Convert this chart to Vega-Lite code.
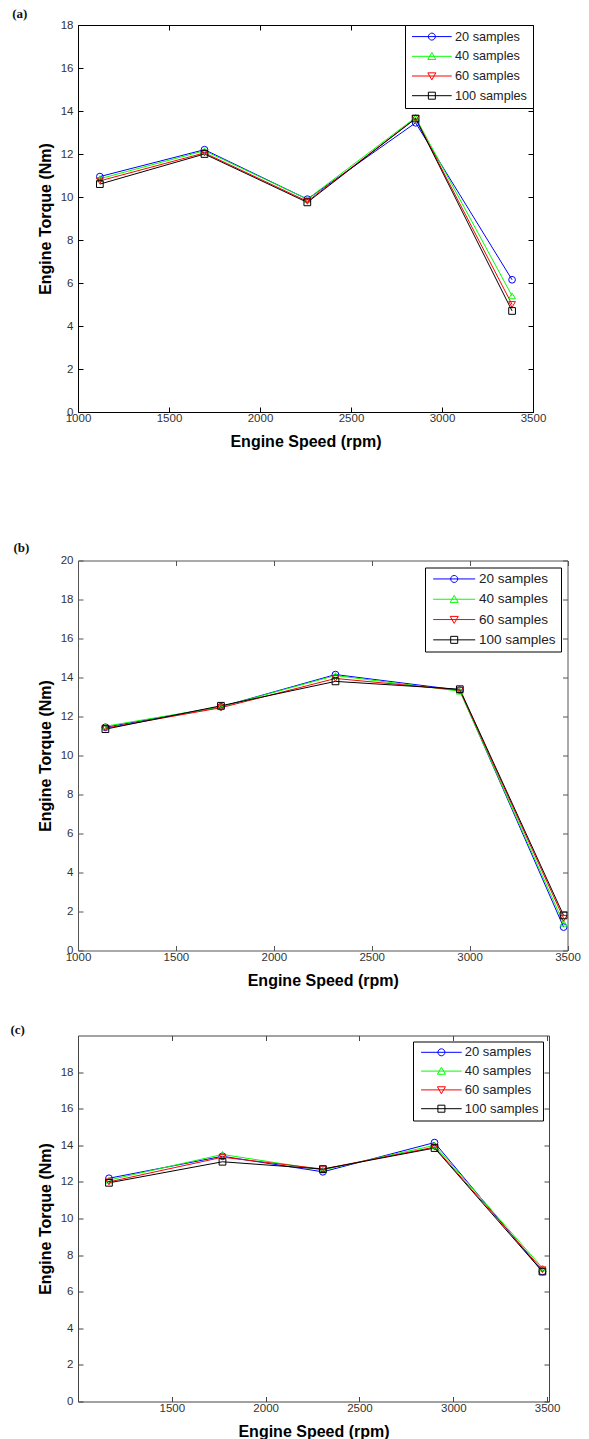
{
  "$schema": "https://vega.github.io/schema/vega-lite/v6.json",
  "background": "white",
  "padding": {"left": 10, "top": 8, "right": 4, "bottom": 0},
  "autosize": {"type": "pad"},
  "config": {
    "view": {"stroke": null},
    "axis": {"grid": false, "domainWidth": 1, "tickWidth": 1, "tickSize": -5, "labelFont": "Liberation Sans", "labelFontSize": 11.5, "labelColor": "#333333", "labelFlush": false, "labelOverlap": false, "titleFont": "Liberation Sans", "titleFontSize": 16, "titleFontWeight": "bold", "titleColor": "#000000", "format": "d"},
    "legend": {"strokeColor": "#000000", "fillColor": "#ffffff", "labelFont": "Liberation Sans", "labelColor": "#222222", "labelAlign": "left", "symbolSize": 49, "symbolStrokeWidth": 1, "symbolFillColor": "transparent", "cornerRadius": 0},
    "title": {"font": "Liberation Serif", "fontSize": 13, "fontWeight": "bold", "color": "#111111", "anchor": "start", "frame": "group", "baseline": "bottom", "offset": 0},
    "point": {"filled": false, "size": 45, "strokeWidth": 1, "opacity": 1},
    "line": {"strokeWidth": 1}
  },
  "datasets": {
    "a": [
      {"series": "20 samples", "rpm": 1120, "torque": 10.95},
      {"series": "20 samples", "rpm": 1695, "torque": 12.2},
      {"series": "20 samples", "rpm": 2260, "torque": 9.9},
      {"series": "20 samples", "rpm": 2855, "torque": 13.45},
      {"series": "20 samples", "rpm": 3385, "torque": 6.15},
      {"series": "40 samples", "rpm": 1120, "torque": 10.85},
      {"series": "40 samples", "rpm": 1695, "torque": 12.15},
      {"series": "40 samples", "rpm": 2260, "torque": 9.9},
      {"series": "40 samples", "rpm": 2855, "torque": 13.7},
      {"series": "40 samples", "rpm": 3385, "torque": 5.4},
      {"series": "60 samples", "rpm": 1120, "torque": 10.75},
      {"series": "60 samples", "rpm": 1695, "torque": 12.05},
      {"series": "60 samples", "rpm": 2260, "torque": 9.8},
      {"series": "60 samples", "rpm": 2855, "torque": 13.65},
      {"series": "60 samples", "rpm": 3385, "torque": 5.0},
      {"series": "100 samples", "rpm": 1120, "torque": 10.6},
      {"series": "100 samples", "rpm": 1695, "torque": 12.0},
      {"series": "100 samples", "rpm": 2260, "torque": 9.75},
      {"series": "100 samples", "rpm": 2855, "torque": 13.65},
      {"series": "100 samples", "rpm": 3385, "torque": 4.7}
    ],
    "b": [
      {"series": "20 samples", "rpm": 1140, "torque": 11.45},
      {"series": "20 samples", "rpm": 1730, "torque": 12.5},
      {"series": "20 samples", "rpm": 2315, "torque": 14.15},
      {"series": "20 samples", "rpm": 2950, "torque": 13.35},
      {"series": "20 samples", "rpm": 3480, "torque": 1.2},
      {"series": "40 samples", "rpm": 1140, "torque": 11.5},
      {"series": "40 samples", "rpm": 1730, "torque": 12.5},
      {"series": "40 samples", "rpm": 2315, "torque": 14.1},
      {"series": "40 samples", "rpm": 2950, "torque": 13.3},
      {"series": "40 samples", "rpm": 3480, "torque": 1.4},
      {"series": "60 samples", "rpm": 1140, "torque": 11.4},
      {"series": "60 samples", "rpm": 1730, "torque": 12.45},
      {"series": "60 samples", "rpm": 2315, "torque": 13.95},
      {"series": "60 samples", "rpm": 2950, "torque": 13.35},
      {"series": "60 samples", "rpm": 3480, "torque": 1.65},
      {"series": "100 samples", "rpm": 1140, "torque": 11.35},
      {"series": "100 samples", "rpm": 1730, "torque": 12.55},
      {"series": "100 samples", "rpm": 2315, "torque": 13.8},
      {"series": "100 samples", "rpm": 2950, "torque": 13.4},
      {"series": "100 samples", "rpm": 3480, "torque": 1.8}
    ],
    "c": [
      {"series": "20 samples", "rpm": 1165, "torque": 12.2},
      {"series": "20 samples", "rpm": 1770, "torque": 13.4},
      {"series": "20 samples", "rpm": 2305, "torque": 12.55},
      {"series": "20 samples", "rpm": 2900, "torque": 14.15},
      {"series": "20 samples", "rpm": 3475, "torque": 7.1},
      {"series": "40 samples", "rpm": 1165, "torque": 12.1},
      {"series": "40 samples", "rpm": 1770, "torque": 13.5},
      {"series": "40 samples", "rpm": 2305, "torque": 12.65},
      {"series": "40 samples", "rpm": 2900, "torque": 14.0},
      {"series": "40 samples", "rpm": 3475, "torque": 7.3},
      {"series": "60 samples", "rpm": 1165, "torque": 12.0},
      {"series": "60 samples", "rpm": 1770, "torque": 13.35},
      {"series": "60 samples", "rpm": 2305, "torque": 12.7},
      {"series": "60 samples", "rpm": 2900, "torque": 13.9},
      {"series": "60 samples", "rpm": 3475, "torque": 7.2},
      {"series": "100 samples", "rpm": 1165, "torque": 11.95},
      {"series": "100 samples", "rpm": 1770, "torque": 13.1},
      {"series": "100 samples", "rpm": 2305, "torque": 12.7},
      {"series": "100 samples", "rpm": 2900, "torque": 13.85},
      {"series": "100 samples", "rpm": 3475, "torque": 7.1}
    ]
  },
  "bounds": "flush",
  "spacing": 148.5,
  "resolve": {"scale": {"color": "independent", "shape": "independent"}, "legend": {"color": "independent", "shape": "independent"}},
  "vconcat": [
    {
      "title": {"text": "(a)", "dx": -65.8, "dy": 6},
      "width": 455,
      "height": 387,
      "data": {"name": "a"},
      "resolve": {"axis": {"x": "independent", "y": "independent"}},
      "encoding": {
        "color": {"field": "series", "type": "nominal", "scale": {"domain": ["20 samples", "40 samples", "60 samples", "100 samples"], "range": ["#0000ff", "#00ff00", "#ff0000", "#000000"]},
          "legend": {"title": null, "orient": "top-right", "offset": 0, "padding": 5.25, "labelFontSize": 12.7, "rowPadding": 5.7, "symbolOffset": 15.25, "labelOffset": 16.8}}
      },
      "layer": [
        {
          "mark": {"type": "line"},
          "encoding": {
            "x": {"field": "rpm", "type": "quantitative", "scale": {"domain": [1000, 3500], "nice": false, "zero": false}, "axis": {"orient": "bottom", "values": [1000, 1500, 2000, 2500, 3000, 3500], "title": "Engine Speed (rpm)", "labelPadding": 5.5, "titlePadding": 9.5, "domainColor": "#000000", "tickColor": "#000000"}},
            "y": {"field": "torque", "type": "quantitative", "scale": {"domain": [0, 18], "nice": false}, "axis": {"orient": "left", "values": [0, 2, 4, 6, 8, 10, 12, 14, 16, 18], "title": "Engine Torque (Nm)", "labelPadding": 10, "titlePadding": 7, "domainColor": "#000000", "tickColor": "#000000"}}
          }
        },
        {
          "transform": [{"filter": "datum.series === '20 samples'"}],
          "mark": {"type": "point", "shape": "circle"},
          "encoding": {
            "x": {"field": "rpm", "type": "quantitative", "axis": {"orient": "top", "values": [1000, 1500, 2000, 2500, 3000, 3500], "labels": false, "title": null, "domainColor": "#000000", "tickColor": "#000000"}},
            "y": {"field": "torque", "type": "quantitative", "axis": {"orient": "right", "values": [0, 2, 4, 6, 8, 10, 12, 14, 16, 18], "labels": false, "title": null, "domainColor": "#000000", "tickColor": "#000000"}}
          }
        },
        {
          "transform": [{"filter": "datum.series === '40 samples'"}],
          "mark": {"type": "point", "shape": "triangle-up"},
          "encoding": {"x": {"field": "rpm", "type": "quantitative", "axis": null}, "y": {"field": "torque", "type": "quantitative", "axis": null}}
        },
        {
          "transform": [{"filter": "datum.series === '60 samples'"}],
          "mark": {"type": "point", "shape": "triangle-down"},
          "encoding": {"x": {"field": "rpm", "type": "quantitative", "axis": null}, "y": {"field": "torque", "type": "quantitative", "axis": null}}
        },
        {
          "transform": [{"filter": "datum.series === '100 samples'"}],
          "mark": {"type": "point", "shape": "square"},
          "encoding": {"x": {"field": "rpm", "type": "quantitative", "axis": null}, "y": {"field": "torque", "type": "quantitative", "axis": null}}
        },
        {
          "transform": [{"filter": "false"}],
          "mark": {"type": "point"},
          "encoding": {
            "x": {"field": "rpm", "type": "quantitative", "axis": null},
            "y": {"field": "torque", "type": "quantitative", "axis": null},
            "shape": {"field": "series", "type": "nominal", "scale": {"domain": ["20 samples", "40 samples", "60 samples", "100 samples"], "range": ["M-5.67,0H5.67M1,0A1,1,0,1,1,-1,0A1,1,0,1,1,1,0Z", "M-5.67,0H5.67M0,-1.1L1.15,0.9L-1.15,0.9Z", "M-5.67,0H5.67M0,1.1L1.15,-0.9L-1.15,-0.9Z", "M-5.67,0H5.67M-1,-1H1V1H-1Z"]},
              "legend": {"title": null, "orient": "top-right", "offset": 0, "padding": 5.25, "labelFontSize": 12.7, "rowPadding": 5.7, "symbolOffset": 15.25, "labelOffset": 16.8}}
          }
        }
      ]
    },
    {
      "bounds": "flush",
      "spacing": 85,
      "resolve": {"scale": {"color": "independent", "shape": "independent"}, "legend": {"color": "independent", "shape": "independent"}},
      "vconcat": [
        {
          "title": {"text": "(b)", "dx": -64.5, "dy": 4.25},
          "width": 489.5,
          "height": 390,
          "data": {"name": "b"},
          "resolve": {"axis": {"x": "independent", "y": "independent"}},
          "encoding": {
            "color": {"field": "series", "type": "nominal", "scale": {"domain": ["20 samples", "40 samples", "60 samples", "100 samples"], "range": ["#0000ff", "#00ff00", "#ff0000", "#000000"]},
              "legend": {"title": null, "orient": "top-right", "offset": 6.7, "padding": 4.7, "labelFontSize": 13.5, "rowPadding": 5.3, "symbolOffset": 17.75, "labelOffset": 18.05}}
          },
          "layer": [
            {
              "mark": {"type": "line"},
              "encoding": {
                "x": {"field": "rpm", "type": "quantitative", "scale": {"domain": [1000, 3500], "nice": false, "zero": false}, "axis": {"orient": "bottom", "values": [1000, 1500, 2000, 2500, 3000, 3500], "title": "Engine Speed (rpm)", "labelPadding": 5.5, "titlePadding": 9.5, "domainColor": "#555555", "tickColor": "#555555"}},
                "y": {"field": "torque", "type": "quantitative", "scale": {"domain": [0, 20], "nice": false}, "axis": {"orient": "left", "values": [0, 2, 4, 6, 8, 10, 12, 14, 16, 18, 20], "title": "Engine Torque (Nm)", "labelPadding": 10, "titlePadding": 7, "domainColor": "#555555", "tickColor": "#555555"}}
              }
            },
            {
              "transform": [{"filter": "datum.series === '20 samples'"}],
              "mark": {"type": "point", "shape": "circle"},
              "encoding": {
                "x": {"field": "rpm", "type": "quantitative", "axis": {"orient": "top", "values": [1000, 1500, 2000, 2500, 3000, 3500], "labels": false, "title": null, "domainColor": "#555555", "tickColor": "#555555"}},
                "y": {"field": "torque", "type": "quantitative", "axis": {"orient": "right", "values": [0, 2, 4, 6, 8, 10, 12, 14, 16, 18, 20], "labels": false, "title": null, "domainColor": "#555555", "tickColor": "#555555"}}
              }
            },
            {
              "transform": [{"filter": "datum.series === '40 samples'"}],
              "mark": {"type": "point", "shape": "triangle-up"},
              "encoding": {"x": {"field": "rpm", "type": "quantitative", "axis": null}, "y": {"field": "torque", "type": "quantitative", "axis": null}}
            },
            {
              "transform": [{"filter": "datum.series === '60 samples'"}],
              "mark": {"type": "point", "shape": "triangle-down"},
              "encoding": {"x": {"field": "rpm", "type": "quantitative", "axis": null}, "y": {"field": "torque", "type": "quantitative", "axis": null}}
            },
            {
              "transform": [{"filter": "datum.series === '100 samples'"}],
              "mark": {"type": "point", "shape": "square"},
              "encoding": {"x": {"field": "rpm", "type": "quantitative", "axis": null}, "y": {"field": "torque", "type": "quantitative", "axis": null}}
            },
            {
              "transform": [{"filter": "false"}],
              "mark": {"type": "point"},
              "encoding": {
                "x": {"field": "rpm", "type": "quantitative", "axis": null},
                "y": {"field": "torque", "type": "quantitative", "axis": null},
                "shape": {"field": "series", "type": "nominal", "scale": {"domain": ["20 samples", "40 samples", "60 samples", "100 samples"], "range": ["M-6,0H6M1,0A1,1,0,1,1,-1,0A1,1,0,1,1,1,0Z", "M-6,0H6M0,-1.1L1.15,0.9L-1.15,0.9Z", "M-6,0H6M0,1.1L1.15,-0.9L-1.15,-0.9Z", "M-6,0H6M-1,-1H1V1H-1Z"]},
                  "legend": {"title": null, "orient": "top-right", "offset": 6.7, "padding": 4.7, "labelFontSize": 13.5, "rowPadding": 5.3, "symbolOffset": 17.75, "labelOffset": 18.05}}
              }
            }
          ]
        },
        {
          "title": {"text": "(c)", "dx": -67.5, "dy": 6},
          "width": 471,
          "height": 366,
          "data": {"name": "c"},
          "resolve": {"axis": {"x": "independent", "y": "independent"}},
          "encoding": {
            "color": {"field": "series", "type": "nominal", "scale": {"domain": ["20 samples", "40 samples", "60 samples", "100 samples"], "range": ["#0000ff", "#00ff00", "#ff0000", "#000000"]},
              "legend": {"title": null, "orient": "top-right", "offset": 6.3, "padding": 4.3, "labelFontSize": 13, "rowPadding": 4.8, "symbolOffset": 17.6, "labelOffset": 16.8}}
          },
          "layer": [
            {
              "mark": {"type": "line"},
              "encoding": {
                "x": {"field": "rpm", "type": "quantitative", "scale": {"domain": [1000, 3510], "nice": false, "zero": false}, "axis": {"orient": "bottom", "values": [1500, 2000, 2500, 3000, 3500], "title": "Engine Speed (rpm)", "labelPadding": 5.5, "titlePadding": 9.5, "domainColor": "#444444", "tickColor": "#444444"}},
                "y": {"field": "torque", "type": "quantitative", "scale": {"domain": [0, 20], "nice": false}, "axis": {"orient": "left", "values": [0, 2, 4, 6, 8, 10, 12, 14, 16, 18], "title": "Engine Torque (Nm)", "labelPadding": 10, "titlePadding": 7, "domainColor": "#444444", "tickColor": "#444444"}}
              }
            },
            {
              "transform": [{"filter": "datum.series === '20 samples'"}],
              "mark": {"type": "point", "shape": "circle"},
              "encoding": {
                "x": {"field": "rpm", "type": "quantitative", "axis": {"orient": "top", "values": [1500, 2000, 2500, 3000, 3500], "labels": false, "title": null, "domainColor": "#444444", "tickColor": "#444444"}},
                "y": {"field": "torque", "type": "quantitative", "axis": {"orient": "right", "values": [0, 2, 4, 6, 8, 10, 12, 14, 16, 18], "labels": false, "title": null, "domainColor": "#444444", "tickColor": "#444444"}}
              }
            },
            {
              "transform": [{"filter": "datum.series === '40 samples'"}],
              "mark": {"type": "point", "shape": "triangle-up"},
              "encoding": {"x": {"field": "rpm", "type": "quantitative", "axis": null}, "y": {"field": "torque", "type": "quantitative", "axis": null}}
            },
            {
              "transform": [{"filter": "datum.series === '60 samples'"}],
              "mark": {"type": "point", "shape": "triangle-down"},
              "encoding": {"x": {"field": "rpm", "type": "quantitative", "axis": null}, "y": {"field": "torque", "type": "quantitative", "axis": null}}
            },
            {
              "transform": [{"filter": "datum.series === '100 samples'"}],
              "mark": {"type": "point", "shape": "square"},
              "encoding": {"x": {"field": "rpm", "type": "quantitative", "axis": null}, "y": {"field": "torque", "type": "quantitative", "axis": null}}
            },
            {
              "transform": [{"filter": "false"}],
              "mark": {"type": "point"},
              "encoding": {
                "x": {"field": "rpm", "type": "quantitative", "axis": null},
                "y": {"field": "torque", "type": "quantitative", "axis": null},
                "shape": {"field": "series", "type": "nominal", "scale": {"domain": ["20 samples", "40 samples", "60 samples", "100 samples"], "range": ["M-5.8,0H5.8M1,0A1,1,0,1,1,-1,0A1,1,0,1,1,1,0Z", "M-5.8,0H5.8M0,-1.1L1.15,0.9L-1.15,0.9Z", "M-5.8,0H5.8M0,1.1L1.15,-0.9L-1.15,-0.9Z", "M-5.8,0H5.8M-1,-1H1V1H-1Z"]},
                  "legend": {"title": null, "orient": "top-right", "offset": 6.3, "padding": 4.3, "labelFontSize": 13, "rowPadding": 4.8, "symbolOffset": 17.6, "labelOffset": 16.8}}
              }
            }
          ]
        }
      ]
    }
  ]
}
